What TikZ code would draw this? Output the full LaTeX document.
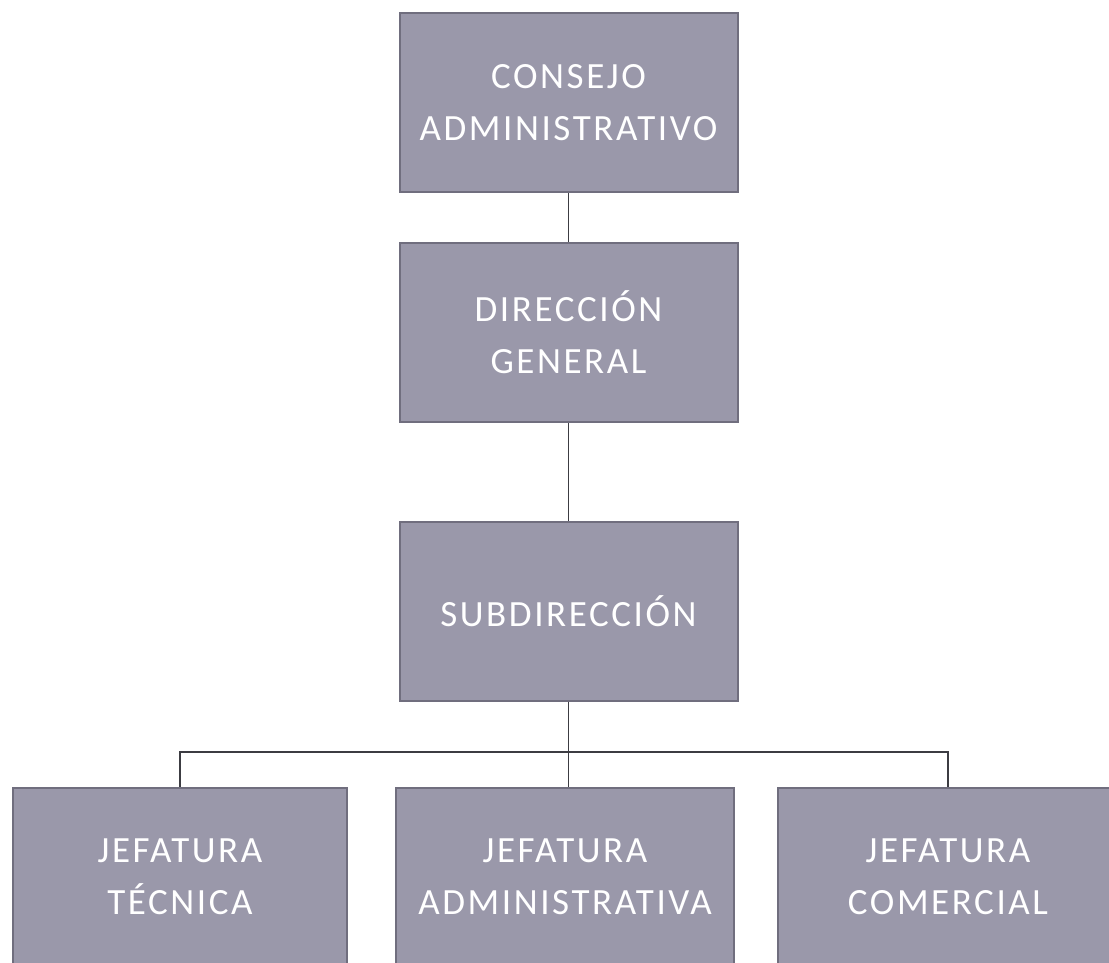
\documentclass[tikz,border=0pt]{standalone}
\usepackage{fontspec}
\setmainfont{Carlito}[LetterSpace=7]
\usetikzlibrary{positioning}

\definecolor{boxfill}{RGB}{154,152,170}
\definecolor{boxline}{RGB}{112,110,126}
\definecolor{wire}{RGB}{60,60,66}

\begin{document}
\begin{tikzpicture}[x=1pt, y=-1pt, node distance={230pt},
  box/.style = {draw=boxline, line width=2pt, fill=boxfill, text=white,
    minimum width=338pt, minimum height=179pt, align=center,
    font=\fontsize{37}{52}\selectfont},
  link/.style = {draw=wire, line width=1.3pt}]
\useasboundingbox (0,0) rectangle (1109,963);
\node[box] (con) at (568.5,103) {CONSEJO\\ADMINISTRATIVO};
\node[box, below of=con, node distance=229.5pt] (dir) {DIRECCIÓN\\GENERAL};
\node[box, below of=dir, node distance=278.5pt] (sub) {SUBDIRECCIÓN};
\node[box, below of=sub, node distance=266pt, xshift=-3.5pt] (adm) {JEFATURA\\ADMINISTRATIVA};
\node[box, left of=adm, node distance=385pt, minimum width=334pt] (tec) {JEFATURA\\TÉCNICA};
\node[box, right of=adm, node distance=383pt, minimum width=340pt] (com) {JEFATURA\\COMERCIAL};
\coordinate (split) at (sub.south |- 0,752);
\draw[link] (con) -- (dir);
\draw[link] (dir) -- (sub);
\draw[link] (sub) -- (split);
\draw[link] (split) -| (tec);
\draw[link] (split) -- (adm.north -| split);
\draw[link] (split) -| (com);
\end{tikzpicture}
\end{document}
